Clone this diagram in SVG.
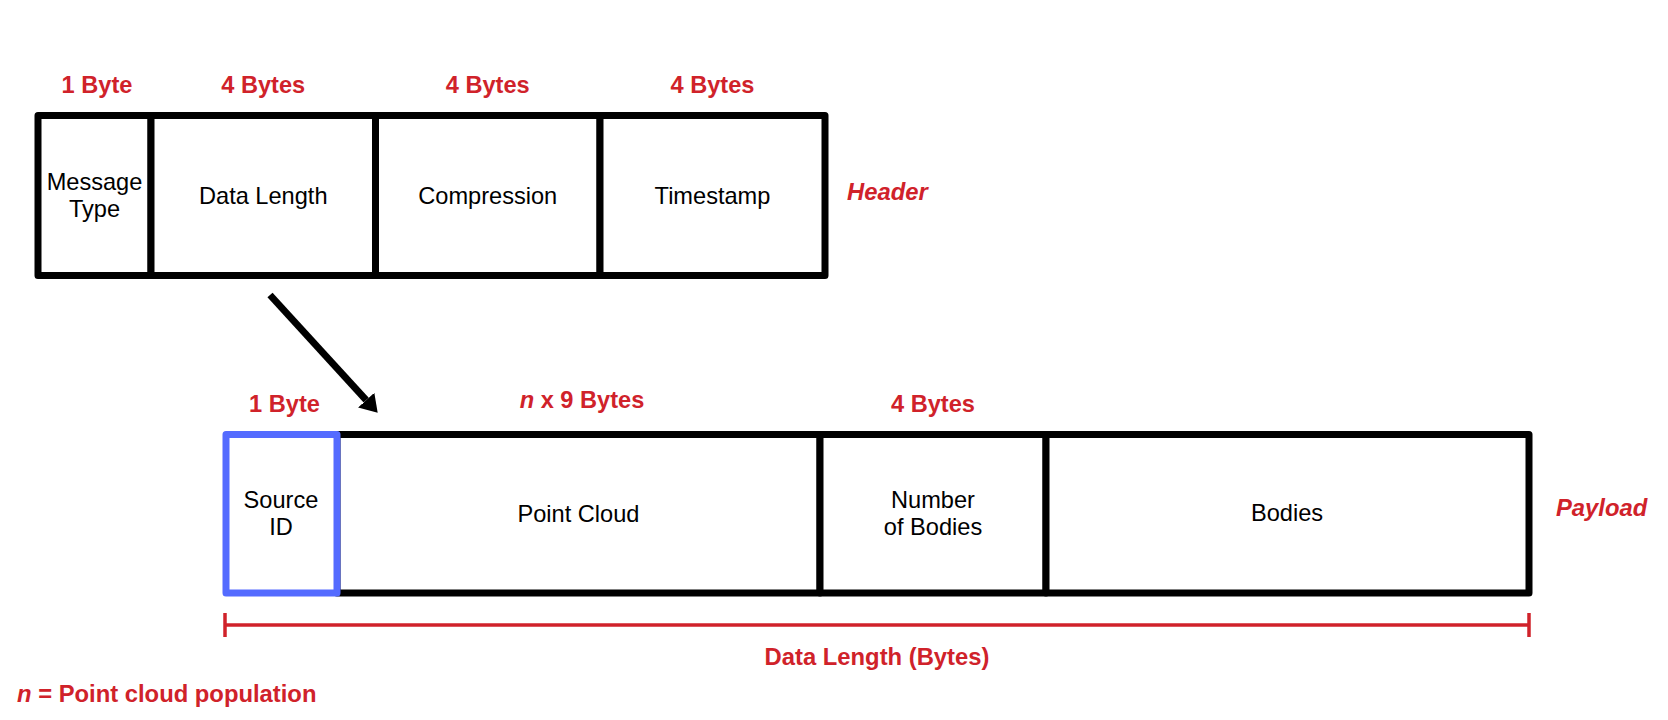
<svg xmlns="http://www.w3.org/2000/svg" width="1668" height="720" viewBox="0 0 1668 720">
  <style>
    .cell { fill: #ffffff; stroke: #000000; stroke-width: 7; stroke-linejoin: round; }
    .src { fill: #ffffff; stroke: #546BFF; stroke-width: 7; stroke-linejoin: round; }
    .txt { font-family: "Liberation Sans", Arial, sans-serif; font-size: 23.6px; fill: #000000; text-anchor: middle; }
    .lbl { font-family: "Liberation Sans", Arial, sans-serif; font-size: 23.6px; font-weight: bold; fill: #D0222A; text-anchor: middle; }
    .sec { font-family: "Liberation Sans", Arial, sans-serif; font-size: 23.8px; font-weight: bold; font-style: italic; fill: #D0222A; }
    .dim { stroke: #D0222A; stroke-width: 3.5; fill: none; }
  </style>
  <defs>
    <marker id="arrowhead" markerUnits="userSpaceOnUse" markerWidth="18" markerHeight="22" refX="0" refY="11" orient="auto">
      <path d="M0,0 L17,11 L0,22 Z" fill="#000000"/>
    </marker>
  </defs>
  <rect width="1668" height="720" fill="#ffffff"/>

  <!-- Header -->
  <g id="header-message-type">
    <rect class="cell" x="38" y="115.5" width="113" height="160"/>
    <text class="txt" x="94.5" y="190">Message</text>
    <text class="txt" x="94.5" y="217">Type</text>
    <text class="lbl" x="97" y="93">1 Byte</text>
  </g>
  <g id="header-data-length">
    <rect class="cell" x="151" y="115.5" width="224.5" height="160"/>
    <text class="txt" x="263.25" y="204">Data Length</text>
    <text class="lbl" x="263.25" y="93">4 Bytes</text>
  </g>
  <g id="header-compression">
    <rect class="cell" x="375.5" y="115.5" width="224.5" height="160"/>
    <text class="txt" x="487.75" y="204">Compression</text>
    <text class="lbl" x="487.75" y="93">4 Bytes</text>
  </g>
  <g id="header-timestamp">
    <rect class="cell" x="600" y="115.5" width="225" height="160"/>
    <text class="txt" x="712.5" y="204">Timestamp</text>
    <text class="lbl" x="712.5" y="93">4 Bytes</text>
  </g>
  <g id="header-label">
    <text class="sec" x="847" y="200">Header</text>
  </g>

  <!-- Payload -->
  <g id="payload-point-cloud">
    <rect class="cell" x="337" y="434.5" width="483" height="158.5"/>
    <text class="txt" x="578.5" y="522">Point Cloud</text>
    <text class="lbl" x="582" y="408"><tspan font-style="italic">n</tspan> x 9 Bytes</text>
  </g>
  <g id="payload-number-of-bodies">
    <rect class="cell" x="820" y="434.5" width="226" height="158.5"/>
    <text class="txt" x="933" y="508">Number</text>
    <text class="txt" x="933" y="535">of Bodies</text>
    <text class="lbl" x="933" y="411.5">4 Bytes</text>
  </g>
  <g id="payload-bodies">
    <rect class="cell" x="1046" y="434.5" width="483" height="158.5"/>
    <text class="txt" x="1287" y="521">Bodies</text>
  </g>
  <g id="payload-source-id">
    <rect class="src" x="226" y="434.5" width="111" height="158.5"/>
    <text class="txt" x="281" y="507.5">Source</text>
    <text class="txt" x="281" y="535">ID</text>
    <text class="lbl" x="284.5" y="411.5">1 Byte</text>
  </g>
  <g id="payload-label">
    <text class="sec" x="1556" y="516">Payload</text>
  </g>

  <!-- Connectors -->
  <g id="connectors">
    <line x1="270" y1="295" x2="366.2" y2="400.2" stroke="#000000" stroke-width="7" marker-end="url(#arrowhead)"/>
    <g id="data-length-bracket">
      <line class="dim" x1="225" y1="625" x2="1529" y2="625"/>
      <line class="dim" x1="225" y1="613" x2="225" y2="637"/>
      <line class="dim" x1="1529" y1="613" x2="1529" y2="637"/>
    </g>
  </g>
  <text class="lbl" x="877" y="665" style="font-size:23.8px">Data Length (Bytes)</text>

  <!-- Legend -->
  <g id="legend">
    <text class="sec" x="17" y="701.5" style="font-style:normal"><tspan font-style="italic">n</tspan> = Point cloud population</text>
  </g>
</svg>
